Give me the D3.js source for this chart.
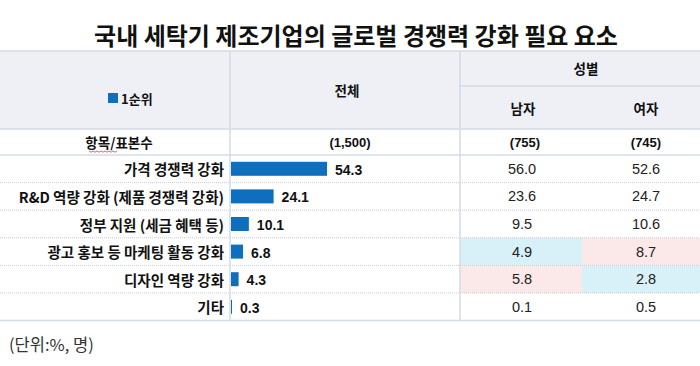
<!DOCTYPE html>
<html>
<head>
<meta charset="utf-8">
<script src="https://cdn.jsdelivr.net/npm/d3@7"></script>
<style>
  body { margin: 0; background: #fff; }
  text { font-family: "Noto Sans CJK KR", "Noto Sans", sans-serif; }
  .num { font-family: "Liberation Sans", Arial, sans-serif; }
</style>
</head>
<body>
<div id="chart"></div>
<script>
var categories = ["가격 경쟁력 강화", "R&D 역량 강화 (제품 경쟁력 강화)", "정부 지원 (세금 혜택 등)",
                  "광고 홍보 등 마케팅 활동 강화", "디자인 역량 강화", "기타"];
var totalValues = [54.3, 24.1, 10.1, 6.8, 4.3, 0.3];
var maleValues = [56.0, 23.6, 9.5, 4.9, 5.8, 0.1];
var femaleValues = [52.6, 24.7, 10.6, 8.7, 2.8, 0.5];
var sampleSizes = ["(1,500)", "(755)", "(745)"];
// +1 higher than total, -1 lower (cell shading)
var maleMark = [0, 0, 0, -1, 1, 0];
var femaleMark = [0, 0, 0, 1, -1, 0];

var width = 700, height = 366;
var svg = d3.select("#chart").append("svg")
    .attr("width", width)
    .attr("height", height);

var lineColor = "#d3dbe7";
var headerTop = 51, subLine = 86, headerBottom = 129, rowsTop = 155, rowH = 27.6;
var col1 = 230, col2 = 460, col3 = 582;

svg.append("text")
    .attr("x", 356).attr("y", 34)
    .attr("text-anchor", "middle").attr("dominant-baseline", "central")
    .style("font-size", "24px").style("font-weight", "bold").style("fill", "#111")
    .text("국내 세탁기 제조기업의 글로벌 경쟁력 강화 필요 요소");

// header background
svg.append("rect")
    .attr("x", 0).attr("y", headerTop).attr("width", width).attr("height", headerBottom - headerTop)
    .attr("fill", "#eef0f5");

var y = d3.scaleBand()
    .domain(categories)
    .range([rowsTop, rowsTop + rowH * categories.length]);

var x = d3.scaleLinear().domain([0, 54.3]).range([col1 + 1, 327]);

// highlight cells
var shade = function(m) { return m > 0 ? "#fbe8e8" : (m < 0 ? "#d8f0f7" : "none"); };
svg.selectAll(".mcell").data(categories).enter().append("rect")
    .attr("x", col2).attr("y", d => y(d)).attr("width", col3 - col2).attr("height", y.bandwidth())
    .attr("fill", (d, i) => shade(maleMark[i]));
svg.selectAll(".fcell").data(categories).enter().append("rect")
    .attr("x", col3).attr("y", d => y(d)).attr("width", width - col3).attr("height", y.bandwidth())
    .attr("fill", (d, i) => shade(femaleMark[i]));

// lines
function hline(yy, x1, x2, dash, color) {
    svg.append("line").attr("x1", x1).attr("x2", x2).attr("y1", yy).attr("y2", yy)
        .attr("stroke", color || lineColor).attr("stroke-width", dash ? 1 : 1.5)
        .attr("stroke-dasharray", dash ? "1,1" : null);
}
hline(headerTop, 0, width);
hline(subLine, col2, width);
hline(headerBottom, 0, width);
hline(rowsTop, 0, width);
categories.slice(0, -1).forEach(function(c) {
    hline(y(c) + y.bandwidth(), 0, width, true, "#c8ccd2");
});
hline(rowsTop + rowH * categories.length, 0, width);
[col1, col2].forEach(function(cx) {
    svg.append("line").attr("x1", cx).attr("x2", cx)
        .attr("y1", headerTop).attr("y2", rowsTop + rowH * categories.length)
        .attr("stroke", lineColor).attr("stroke-width", 1.5);
});

// header text
function txt(xx, yy, s, opts) {
    opts = opts || {};
    return svg.append("text").attr("x", xx).attr("y", yy)
        .attr("class", opts.cls || null)
        .attr("text-anchor", opts.anchor || "middle")
        .attr("dominant-baseline", "central")
        .style("font-size", (opts.size || 13.5) + "px")
        .style("font-weight", opts.weight || "normal")
        .style("fill", "#111")
        .text(s);
}
svg.append("rect").attr("x", 108).attr("y", 93).attr("width", 10).attr("height", 10).attr("fill", "#0e6fbf");
txt(121, 98.5, "1순위", { anchor: "start", weight: "bold", size: 13 });
txt(col1 + (col2 - col1) / 2 + 2, 90, "전체", { weight: "bold" });
txt(col2 + (width - col2) / 2 + 6, 68, "성별", { weight: "bold" });
txt((col2 + col3) / 2 + 2, 108, "남자", { weight: "bold" });
txt((col3 + width) / 2 + 5, 108, "여자", { weight: "bold" });

txt(col1 / 2 + 4, 142, "항목/표본수", { weight: "bold" });
txt(col1 + (col2 - col1) / 2 + 5, 142, sampleSizes[0], { weight: "bold", cls: "num", size: 13 });
txt((col2 + col3) / 2 + 4, 142, sampleSizes[1], { weight: "bold", cls: "num", size: 13 });
txt((col3 + width) / 2 + 5, 142, sampleSizes[2], { weight: "bold", cls: "num", size: 13 });
// spell-check squiggle under 표본수
svg.append("path")
    .attr("d", d3.range(0, 30, 2).map((d, i) => (i ? "L" : "M") + (89 + d) + "," + (151 + (i % 2 ? 1.2 : 0))).join(""))
    .attr("stroke", "#d04040").attr("stroke-width", 0.8).attr("fill", "none");

// rows
var bh = 14;
svg.selectAll(".label").data(categories).enter().append("text")
    .attr("x", col1 - 6).attr("y", d => y(d) + y.bandwidth() / 2)
    .attr("text-anchor", "end").attr("dominant-baseline", "central")
    .style("font-size", "14.5px").style("font-weight", "bold").style("fill", "#111")
    .text(d => d);

svg.selectAll(".bar").data(totalValues).enter().append("rect")
    .attr("x", x(0)).attr("y", (d, i) => y(categories[i]) + (y.bandwidth() - bh) / 2)
    .attr("width", d => Math.max(1, x(d) - x(0))).attr("height", bh)
    .attr("fill", "#0e6fbf");

svg.selectAll(".val").data(totalValues).enter().append("text")
    .attr("class", "num")
    .attr("x", d => Math.max(x(d), x(0) + 1) + 8).attr("y", (d, i) => y(categories[i]) + y.bandwidth() / 2 + 1)
    .attr("dominant-baseline", "central")
    .style("font-size", "14px").style("font-weight", "bold").style("fill", "#111")
    .text(d => d.toFixed(1));

svg.selectAll(".mval").data(maleValues).enter().append("text")
    .attr("class", "num")
    .attr("x", (col2 + col3) / 2 + 1).attr("y", (d, i) => y(categories[i]) + y.bandwidth() / 2)
    .attr("text-anchor", "middle").attr("dominant-baseline", "central")
    .style("font-size", "14.5px").style("fill", "#222")
    .text(d => d.toFixed(1));

svg.selectAll(".fval").data(femaleValues).enter().append("text")
    .attr("class", "num")
    .attr("x", (col3 + width) / 2 + 5).attr("y", (d, i) => y(categories[i]) + y.bandwidth() / 2)
    .attr("text-anchor", "middle").attr("dominant-baseline", "central")
    .style("font-size", "14.5px").style("fill", "#222")
    .text(d => d.toFixed(1));

txt(9, 344, "(단위:%, 명)", { anchor: "start", size: 16.5 }).style("fill", "#333");
</script>
</body>
</html>
